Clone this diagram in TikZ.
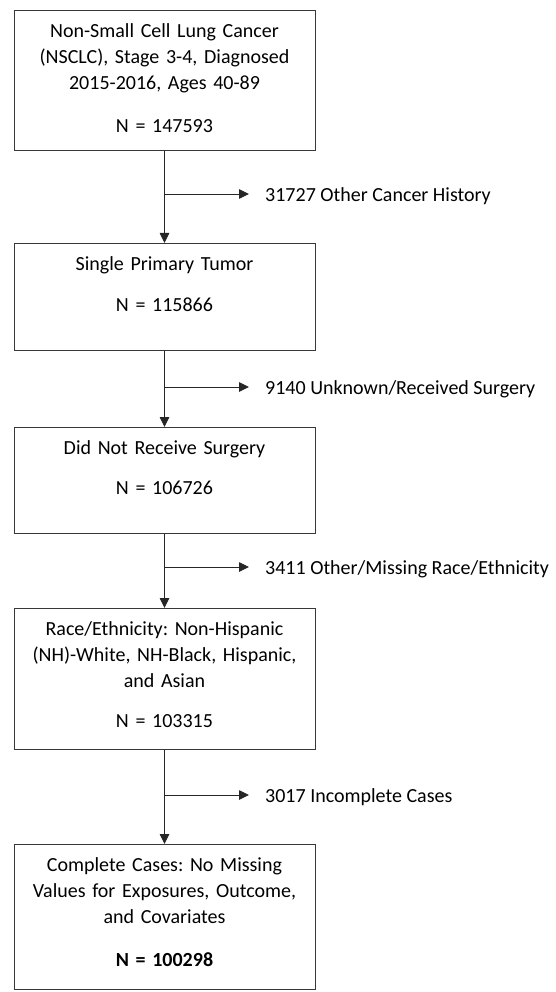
\documentclass[tikz,border=0pt]{standalone}
\usepackage{fontspec}
\setmainfont{Carlito}
\usetikzlibrary{arrows.meta}
\frenchspacing
\begin{document}
\begin{tikzpicture}[x=1pt,y=-1pt,
  box/.style={draw=black!78, line width=0.8pt, inner sep=0pt, text width=301pt,
    align=center, font=\fontsize{20}{26}\selectfont, anchor=north, text height=27pt},
  lab/.style={inner xsep=16pt, inner ysep=0pt, anchor=base west, font=\fontsize{20}{26}\selectfont},
  arr/.style={draw=black!85, line width=0.9pt, -{Triangle[length=10pt,width=9.5pt]}},
  ln/.style={draw=black!80, line width=0.8pt}]
\useasboundingbox[fill=white] (0,0) rectangle (556,992);

\node[box, text depth=113pt] (b1) at (164.5,10)
  {Non-Small Cell Lung Cancer\\(NSCLC), Stage 3-4, Diagnosed\\2015-2016, Ages 40-89\\[17pt]N = 147593};
\node[box, text depth=80pt] (b2) at (164.5,243)
  {Single Primary Tumor\\[15pt]N = 115866};
\node[box, text depth=79pt] (b3) at (164.5,427)
  {Did Not Receive Surgery\\[14pt]N = 106726};
\node[box, text depth=114pt] (b4) at (164.5,608)
  {Race/Ethnicity: Non-Hispanic\\(NH)-White, NH-Black, Hispanic,\\and Asian\\[14pt]N = 103315};
\node[box, text depth=118pt] (b5) at (164.5,844)
  {Complete Cases: No Missing\\Values for Exposures, Outcome,\\and Covariates\\[17pt]\textbf{N = 100298}};

\coordinate (c1) at (164.5,194);
\coordinate (c2) at (164.5,387);
\coordinate (c3) at (164.5,567);
\coordinate (c4) at (164.5,795);

\node[lab] (l1) at (249,201.5) {31727 Other Cancer History};
\node[lab] (l2) at (249,394.5) {9140 Unknown/Received Surgery};
\node[lab] (l3) at (249,574.5) {3411 Other/Missing Race/Ethnicity};
\node[lab] (l4) at (249,802.5) {3017 Incomplete Cases};

\draw[arr] (b1.south) -- (b2.north);
\draw[arr] (b2.south) -- (b3.north);
\draw[arr] (b3.south) -- (b4.north);
\draw[arr] (b4.south) -- (b5.north);

\draw[arr] (c1) -- (c1 -| l1.west);
\draw[arr] (c2) -- (c2 -| l2.west);
\draw[arr] (c3) -- (c3 -| l3.west);
\draw[arr] (c4) -- (c4 -| l4.west);
\end{tikzpicture}
\end{document}
